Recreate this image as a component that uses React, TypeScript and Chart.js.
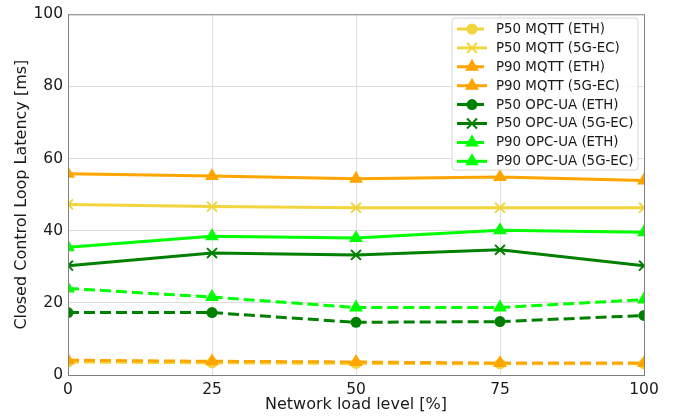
import React, { useEffect, useRef } from "react";
import { Chart, registerables } from "chart.js";

Chart.register(...registerables);

const loadLevels = [0, 25, 50, 75, 100];
const xTicks = [0, 25, 50, 75, 100];
const yTicks = [0, 20, 40, 60, 80, 100];

const p50MqttEth = [3.6, 3.4, 3.2, 3.1, 3.1];
const p50Mqtt5g = [47.3, 46.7, 46.4, 46.4, 46.4];
const p90MqttEth = [4.1, 3.8, 3.6, 3.3, 3.3];
const p90Mqtt5g = [55.8, 55.2, 54.4, 54.9, 53.9];
const p50OpcEth = [17.3, 17.3, 14.6, 14.8, 16.5];
const p50Opc5g = [30.3, 33.8, 33.3, 34.7, 30.3];
const p90OpcEth = [24.0, 21.6, 18.7, 18.7, 20.9];
const p90Opc5g = [35.4, 38.5, 38.0, 40.1, 39.6];

const seriesLabels = [
  "P50 MQTT (ETH)",
  "P50 MQTT (5G-EC)",
  "P90 MQTT (ETH)",
  "P90 MQTT (5G-EC)",
  "P50 OPC-UA (ETH)",
  "P50 OPC-UA (5G-EC)",
  "P90 OPC-UA (ETH)",
  "P90 OPC-UA (5G-EC)",
];
const seriesValues = [p50MqttEth, p50Mqtt5g, p90MqttEth, p90Mqtt5g, p50OpcEth, p50Opc5g, p90OpcEth, p90Opc5g];

const YELLOW = "#f2d53c";
const ORANGE = "#ffa500";
const GREEN = "#008000";
const LIME = "#00ff00";
const seriesColors = [YELLOW, YELLOW, ORANGE, ORANGE, GREEN, GREEN, LIME, LIME];
const seriesDashed = [true, false, true, false, true, false, true, false];
const seriesMarkers = ["circle", "crossRot", "triangle", "triangle", "circle", "crossRot", "triangle", "triangle"];

const FONT = "'DejaVu Sans', sans-serif";
const DASH = [11, 5];

function markerRadius(m: string) {
  if (m === "circle") return 5.5;
  if (m === "crossRot") return 7;
  return 8;
}

function drawMarker(ctx: CanvasRenderingContext2D, m: string, x: number, y: number, r: number, color: string) {
  ctx.save();
  ctx.setLineDash([]);
  ctx.fillStyle = color;
  ctx.strokeStyle = color;
  if (m === "circle") {
    ctx.beginPath();
    ctx.arc(x, y, r, 0, Math.PI * 2);
    ctx.fill();
  } else if (m === "crossRot") {
    const d = r * Math.SQRT1_2;
    ctx.lineWidth = 2;
    ctx.beginPath();
    ctx.moveTo(x - d, y - d);
    ctx.lineTo(x + d, y + d);
    ctx.moveTo(x + d, y - d);
    ctx.lineTo(x - d, y + d);
    ctx.stroke();
  } else {
    ctx.beginPath();
    ctx.moveTo(x, y - r);
    ctx.lineTo(x + r * 0.866, y + r * 0.5);
    ctx.lineTo(x - r * 0.866, y + r * 0.5);
    ctx.closePath();
    ctx.fill();
  }
  ctx.restore();
}

const framePlugin = {
  id: "mplFrame",
  afterDraw(chart: any) {
    const { ctx, chartArea } = chart;
    ctx.save();
    ctx.strokeStyle = "#808080";
    ctx.lineWidth = 1;
    ctx.setLineDash([]);
    ctx.strokeRect(chartArea.left + 0.5, chartArea.top + 0.5, chartArea.right - chartArea.left, chartArea.bottom - chartArea.top);

    // legend
    const x0 = 452, y0 = 18, w = 186, h = 152;
    ctx.beginPath();
    const rr = 3;
    ctx.moveTo(x0 + rr, y0);
    ctx.lineTo(x0 + w - rr, y0);
    ctx.quadraticCurveTo(x0 + w, y0, x0 + w, y0 + rr);
    ctx.lineTo(x0 + w, y0 + h - rr);
    ctx.quadraticCurveTo(x0 + w, y0 + h, x0 + w - rr, y0 + h);
    ctx.lineTo(x0 + rr, y0 + h);
    ctx.quadraticCurveTo(x0, y0 + h, x0, y0 + h - rr);
    ctx.lineTo(x0, y0 + rr);
    ctx.quadraticCurveTo(x0, y0, x0 + rr, y0);
    ctx.closePath();
    ctx.fillStyle = "rgba(255,255,255,0.8)";
    ctx.fill();
    ctx.strokeStyle = "#d6d6d6";
    ctx.stroke();

    chart.data.datasets.forEach((ds: any, i: number) => {
      const cy = y0 + 11 + i * 18.9;
      ctx.save();
      ctx.strokeStyle = ds.borderColor;
      ctx.lineWidth = ds.borderWidth;
      ctx.setLineDash(ds.borderDash || []);
      ctx.lineCap = "butt";
      ctx.beginPath();
      ctx.moveTo(457, cy);
      ctx.lineTo(487, cy);
      ctx.stroke();
      ctx.restore();
      drawMarker(ctx, ds.pointStyle, 472, cy, ds.pointRadius, ds.borderColor);
      ctx.fillStyle = "#1a1a1a";
      ctx.font = `13.4px ${FONT}`;
      ctx.textAlign = "left";
      ctx.textBaseline = "middle";
      ctx.fillText(ds.label, 496, cy + 0.5);
    });
    ctx.restore();
  },
};

export default function App() {
  const canvasRef = useRef<HTMLCanvasElement | null>(null);

  useEffect(() => {
    if (!canvasRef.current) return;
    const datasets = seriesLabels.map((label, i) => ({
      label,
      data: loadLevels.map((x, j) => ({ x, y: seriesValues[i][j] })),
      borderColor: seriesColors[i],
      backgroundColor: seriesColors[i],
      pointBackgroundColor: seriesColors[i],
      pointBorderColor: seriesColors[i],
      borderWidth: 3,
      borderDash: seriesDashed[i] ? DASH : [],
      pointStyle: seriesMarkers[i],
      pointRadius: markerRadius(seriesMarkers[i]),
      pointBorderWidth: seriesMarkers[i] === "crossRot" ? 2 : 0,
      pointHoverRadius: markerRadius(seriesMarkers[i]),
      tension: 0,
      fill: false,
      order: -i,
      clip: 0,
    }));

    const chart = new Chart(canvasRef.current, {
      type: "line",
      data: { datasets },
      options: {
        animation: false,
        responsive: true,
        maintainAspectRatio: false,
        layout: { padding: { top: 11, right: 37, left: 0, bottom: 0 } },
        plugins: {
          legend: { display: false },
          tooltip: { enabled: false },
        },
        scales: {
          x: {
            type: "linear",
            min: 0,
            max: 100,
            afterBuildTicks: (s: any) => {
              s.ticks = xTicks.map((v) => ({ value: v }));
            },
            afterFit: (s: any) => {
              s.height = 43;
            },
            ticks: {
              font: { family: FONT, size: 15.5 },
              color: "#1a1a1a",
              padding: 6,
              maxRotation: 0,
            },
            grid: { color: "#dedede", lineWidth: 1, drawTicks: false },
            border: { display: false },
            title: {
              display: true,
              text: "Network load level [%]",
              font: { family: FONT, size: 16 },
              color: "#1a1a1a",
              padding: { top: 0, bottom: 4 },
            },
          },
          y: {
            type: "linear",
            min: 0,
            max: 100,
            afterBuildTicks: (s: any) => {
              s.ticks = yTicks.map((v) => ({ value: v }));
            },
            afterFit: (s: any) => {
              s.width = 68;
            },
            ticks: {
              font: { family: FONT, size: 15.5 },
              color: "#1a1a1a",
              padding: 5,
            },
            grid: { color: "#dedede", lineWidth: 1, drawTicks: false },
            border: { display: false },
            title: {
              display: true,
              text: "Closed Control Loop Latency [ms]",
              font: { family: FONT, size: 16 },
              color: "#1a1a1a",
              padding: { top: 12, bottom: 0 },
            },
          },
        },
      },
      plugins: [framePlugin],
    });
    return () => chart.destroy();
  }, []);

  return (
    <div style={{ position: "absolute", left: 0, top: 0, width: 681, height: 418 }}>
      <canvas ref={canvasRef} />
    </div>
  );
}
